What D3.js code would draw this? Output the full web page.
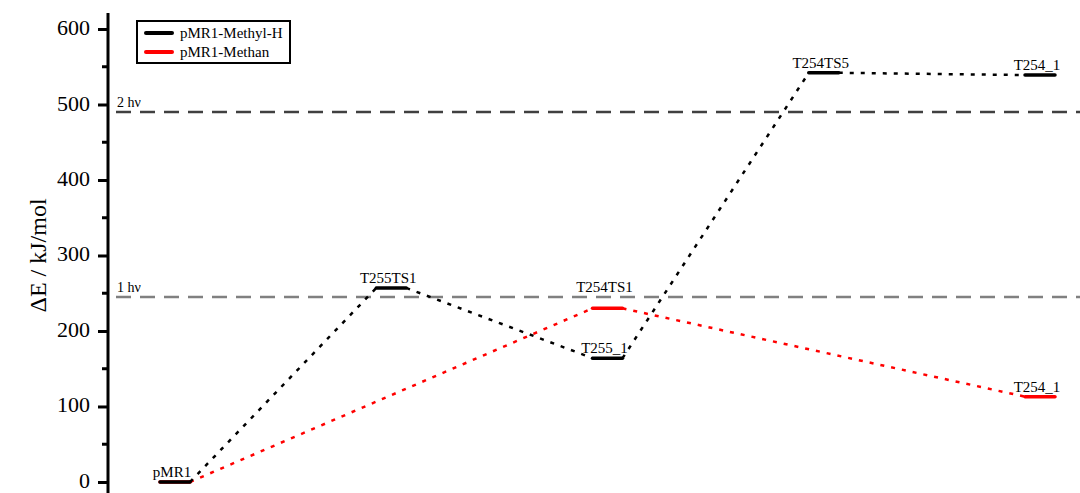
<!DOCTYPE html>
<html lang="en">
<head>
<meta charset="UTF-8">
<title>Energy profile</title>
<script src="https://cdn.jsdelivr.net/npm/d3@7"></script>
<style>
  body { margin: 0; background: #fff; }
  svg text { font-family: "Liberation Serif", "DejaVu Serif", serif !important; }
</style>
</head>
<body>
<script>
// data
var blackStages = [0, 1, 2, 3, 4];
var blackValues = [0, 257, 164, 542, 539];
var blackNames = ["pMR1", "T255TS1", "T255_1", "T254TS5", "T254_1"];

var redStages = [0, 2, 4];
var redValues = [0, 230, 113];
var redNames = ["", "T254TS1", "T254_1"];

var photonValues = [245, 490];
var photonNames = ["1 h\u03bd", "2 h\u03bd"];
var photonColors = ["#808080", "#404040"];

var yTicks = [0, 100, 200, 300, 400, 500, 600];
var legendNames = ["pMR1-Methyl-H", "pMR1-Methan"];
var seriesColors = ["#000", "#f00"];

var w = 1080, h = 493;
var halfBar = 15;

var svg = d3.select("body").append("svg")
  .attr("width", w).attr("height", h);

var x = d3.scaleLinear().domain([0, 4]).range([175, 1040]);
var y = d3.scaleLinear().domain([-14.6, 621.2]).range([493, 13]);

// photon energy lines
photonValues.forEach(function(v, i) {
  svg.append("line")
    .attr("x1", 116).attr("x2", w)
    .attr("y1", y(v)).attr("y2", y(v))
    .attr("stroke", photonColors[i])
    .attr("stroke-width", 2.5)
    .attr("stroke-dasharray", "15,9");
  svg.append("text")
    .attr("x", 117).attr("y", y(v) - 5)
    .attr("font-size", 14)
    .text(photonNames[i]);
});

// a series: dotted connectors + level bars + names
function drawSeries(stages, values, names, color) {
  var pts = [];
  stages.forEach(function(s, i) {
    if (i > 0) pts.push([x(s) - halfBar, y(values[i])]);
    if (i < stages.length - 1) pts.push([x(s) + halfBar, y(values[i])]);
  });
  for (var i = 0; i < pts.length; i += 2) {
    svg.append("path")
      .attr("d", d3.line()([pts[i], pts[i + 1]]))
      .attr("fill", "none")
      .attr("stroke", color)
      .attr("stroke-width", 2.5)
      .attr("stroke-dasharray", "4,7");
  }
  svg.selectAll(null).data(stages).enter().append("line")
    .attr("x1", function(d) { return x(d) - halfBar; })
    .attr("x2", function(d) { return x(d) + halfBar; })
    .attr("y1", function(d, i) { return y(values[i]); })
    .attr("y2", function(d, i) { return y(values[i]); })
    .attr("stroke", color)
    .attr("stroke-width", 3.5)
    .attr("stroke-linecap", "round");
  svg.selectAll(null).data(stages).enter().append("text")
    .attr("x", function(d) { return x(d) - 3; })
    // the T254TS1 name sits above the 1 hv line
    .attr("y", function(d, i) { return y(values[i]) - (names[i] === "T254TS1" ? 16 : 5); })
    .attr("text-anchor", "middle")
    .attr("font-size", 15)
    .text(function(d, i) { return names[i]; });
}

drawSeries(redStages, redValues, redNames, seriesColors[1]);
drawSeries(blackStages, blackValues, blackNames, seriesColors[0]);

// y axis
var yAxis = d3.axisLeft(y).tickValues(yTicks).tickSize(10).tickPadding(8);
var gy = svg.append("g")
  .attr("transform", "translate(108,0)")
  .call(yAxis)
  .attr("font-family", null);
gy.select(".domain").attr("stroke-width", 3).attr("d", "M0," + y(621.2) + "V" + h);
gy.selectAll(".tick line").attr("stroke-width", 3);
gy.selectAll(".tick text")
  .attr("font-size", 22)
  .attr("dy", "0.25em")
  .attr("fill", "#000");

// minor ticks
var minor = yTicks.map(function(v) { return v + 50; }).filter(function(v) { return v < 620; });
gy.selectAll(".minor").data(minor).enter().append("line")
  .attr("x1", -6).attr("x2", 0)
  .attr("y1", function(d) { return y(d); })
  .attr("y2", function(d) { return y(d); })
  .attr("stroke", "#000").attr("stroke-width", 3);

svg.append("text")
  .attr("transform", "translate(46," + y(300) + ") rotate(-90)")
  .attr("text-anchor", "middle")
  .attr("font-size", 24)
  .text("\u0394E / kJ/mol");

// legend
var lg = svg.append("g").attr("transform", "translate(137,21)");
lg.append("rect").attr("width", 153).attr("height", 42)
  .attr("fill", "#fff").attr("stroke", "#000").attr("stroke-width", 2);
legendNames.forEach(function(n, i) {
  lg.append("line")
    .attr("x1", 9).attr("x2", 35)
    .attr("y1", 12 + i * 19).attr("y2", 12 + i * 19)
    .attr("stroke", seriesColors[i]).attr("stroke-width", 4)
    .attr("stroke-linecap", "round");
  lg.append("text")
    .attr("x", 43).attr("y", 17 + i * 19)
    .attr("font-size", 15)
    .text(n);
});
</script>
</body>
</html>
